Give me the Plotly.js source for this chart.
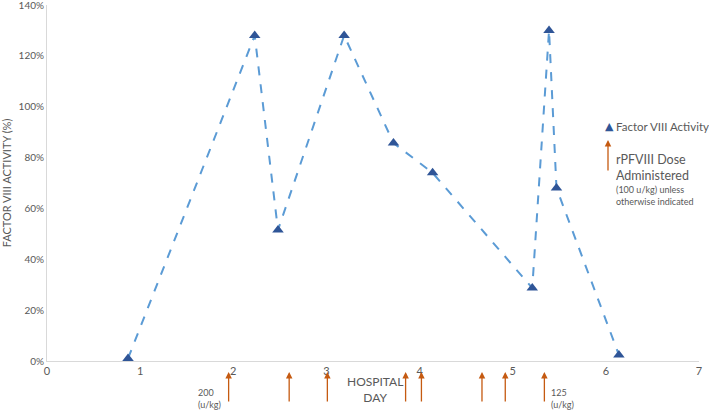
<!DOCTYPE html>
<html>
<head>
<meta charset="utf-8">
<script src="https://cdn.plot.ly/plotly-3.0.1.min.js"></script>
<style>html,body{margin:0;padding:0;background:#fff;}#chart{width:709px;height:411px;}</style>
</head>
<body>
<div id="chart"></div>
<script>
// Factor VIII activity measurements
const hospitalDay = [0.87, 2.23, 2.48, 3.19, 3.72, 4.14, 5.21, 5.39, 5.47, 6.14];
const activityPct = [1, 128, 51.5, 128, 85.7, 74, 28.7, 130, 68, 2.4];
// rPFVIII dose administration days
const doseDays = [1.95, 2.60, 3.01, 3.85, 4.02, 4.67, 4.92, 5.34];
const doseLabels = ['200<br>(u/kg)', '', '', '', '', '', '', '125<br>(u/kg)'];
const xTicks = [0, 1, 2, 3, 4, 5, 6, 7];
const yTicks = [0, 20, 40, 60, 80, 100, 120, 140];

const FONT = 'Lato, "Open Sans", sans-serif';
const GREY = '#595959';
const ARROW = '#C55A11';
const MARK = '#2F5597';

const trace = {
  x: hospitalDay, y: activityPct,
  type: 'scatter', mode: 'lines+markers',
  name: 'Factor VIII Activity', showlegend: false,
  line: {color: '#5B9BD5', width: 2, dash: 'dash'},
  marker: {symbol: 'triangle-up', size: 10, color: MARK},
  cliponaxis: false
};

const PH = 356, PW = 652, PL = 47, PB = 361;
const py = p => (PB - p) / PH;   // pixel y -> paper
const px = p => (p - PL) / PW;   // pixel x -> paper

const annotations = [];
doseDays.forEach((d, i) => {
  annotations.push({
    xref: 'x', yref: 'paper', x: d, y: py(372),
    ax: 0, ay: 31, axref: 'pixel', ayref: 'pixel',
    showarrow: true, arrowhead: 2, arrowsize: 1, arrowwidth: 1.3, arrowcolor: ARROW,
    text: ''
  });
  if (doseLabels[i]) {
    const left = i === doseDays.length - 1;
    annotations.push({
      xref: 'x', yref: 'paper', x: d, y: py(398.5),
      xshift: left ? 5 : -6,
      xanchor: left ? 'left' : 'right', yanchor: 'middle', align: 'left',
      showarrow: false, text: doseLabels[i],
      font: {family: FONT, size: 9, color: GREY}
    });
  }
});
// x axis title
annotations.push({
  xref: 'paper', yref: 'paper', x: px(375), y: py(389), yanchor: 'middle',
  showarrow: false, text: 'HOSPITAL<br>DAY', align: 'center',
  font: {family: FONT, size: 12, color: GREY}
});
// custom legend
annotations.push({
  xref: 'paper', yref: 'paper', x: px(609), y: py(127),
  xanchor: 'center', yanchor: 'middle', showarrow: false,
  text: '▲', font: {family: 'DejaVu Sans', size: 11, color: MARK}
});
annotations.push({
  xref: 'paper', yref: 'paper', x: px(614), y: py(127),
  xanchor: 'left', yanchor: 'middle', align: 'left', showarrow: false,
  text: 'Factor VIII Activity',
  font: {family: FONT, size: 11.5, color: GREY}
});
annotations.push({
  xref: 'paper', yref: 'paper', x: px(608), y: py(140),
  ax: 0, ay: 32, axref: 'pixel', ayref: 'pixel',
  showarrow: true, arrowhead: 2, arrowsize: 1, arrowwidth: 1.3, arrowcolor: ARROW, text: ''
});
annotations.push({
  xref: 'paper', yref: 'paper', x: px(614), y: py(167),
  xanchor: 'left', yanchor: 'middle', align: 'left', showarrow: false,
  text: 'rPFVIII Dose<br>Administered',
  font: {family: FONT, size: 12.5, color: GREY}
});
annotations.push({
  xref: 'paper', yref: 'paper', x: px(614), y: py(195),
  xanchor: 'left', yanchor: 'middle', align: 'left', showarrow: false,
  text: '(100 u/kg) unless<br>otherwise indicated',
  font: {family: FONT, size: 9, color: GREY}
});

const layout = {
  width: 709, height: 411,
  margin: {l: 47, r: 10, t: 5, b: 50, autoexpand: false},
  paper_bgcolor: '#fff', plot_bgcolor: '#fff',
  font: {family: FONT, color: GREY},
  showlegend: false,
  xaxis: {
    range: [0, 7], tickvals: xTicks, ticktext: xTicks.map(String),
    showgrid: false, zeroline: false, showline: true, linecolor: '#D9D9D9', linewidth: 1,
    ticks: '', tickfont: {family: FONT, size: 11, color: GREY}, ticklabeloverflow: 'allow'
  },
  yaxis: {
    range: [0, 140], tickvals: yTicks, ticktext: yTicks.map(v => v + '%'),
    showgrid: false, zeroline: false, showline: true, linecolor: '#D9D9D9', linewidth: 1,
    ticks: '', tickfont: {family: FONT, size: 10, color: GREY}, ticklabeloverflow: 'allow',
    title: {text: 'FACTOR VIII ACTIVITY (%)', font: {family: FONT, size: 11, color: GREY}, standoff: 6}
  },
  annotations: annotations
};

Plotly.newPlot('chart', [trace], layout, {displayModeBar: false, staticPlot: true});
</script>
</body>
</html>
